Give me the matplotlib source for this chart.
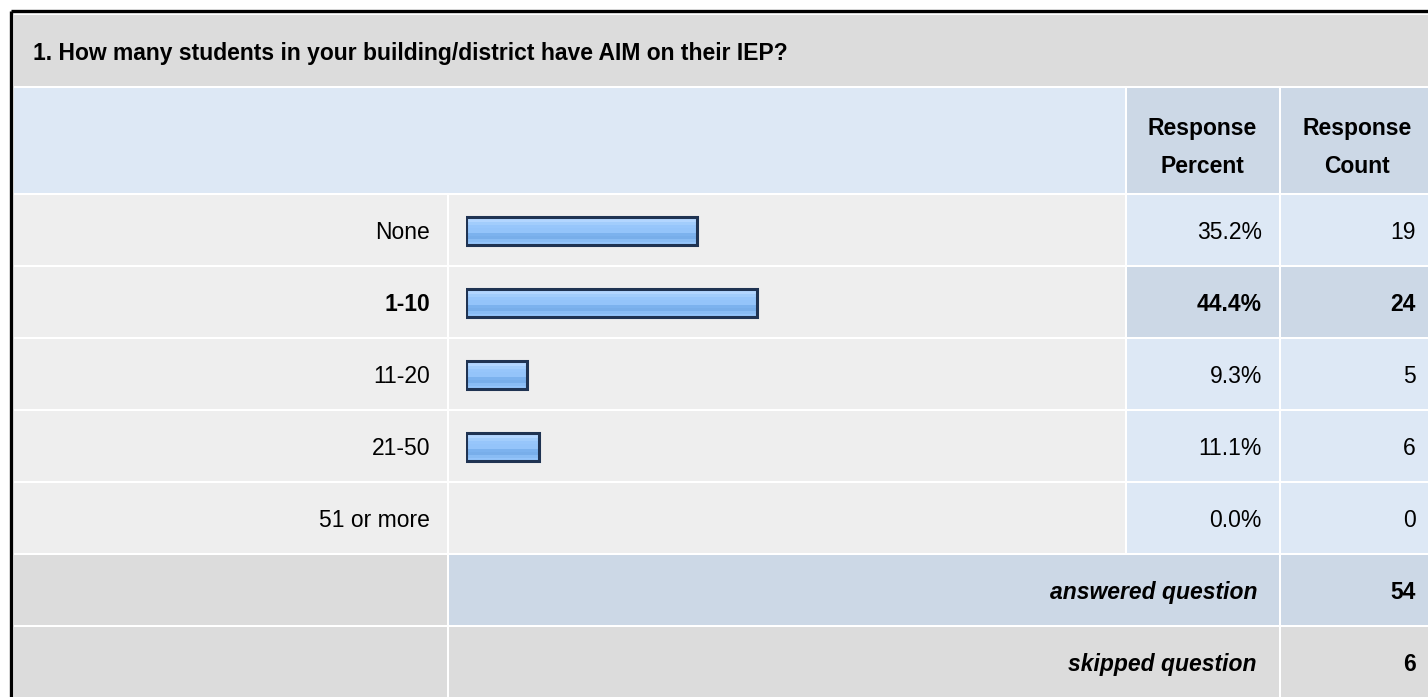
import matplotlib
matplotlib.use("Agg")
import matplotlib.pyplot as plt
from matplotlib.patches import Rectangle
import numpy as np

question = "1. How many students in your building/district have AIM on their IEP?"
choices = ["None", "1-10", "11-20", "21-50", "51 or more"]
percents = [35.2, 44.4, 9.3, 11.1, 0.0]
counts = [19, 24, 5, 6, 0]
answered = 54
skipped = 6

W, H = 1428, 697
GRAY = "#dcdcdc"
ROWBG = "#eeeeee"
LBLUE = "#dde8f5"
BLUE = "#ccd8e6"
NAVY = "#1f3352"
FONT = "Liberation Sans"
FS = 16.5
DY = 2.5  # nudge text down so the glyphs sit centred like the reference

fig = plt.figure(figsize=(W / 100, H / 100), dpi=100)
fig.patch.set_facecolor("white")
ax = fig.add_axes([0, 0, 1, 1])
ax.set_xlim(0, W)
ax.set_ylim(H, 0)
ax.axis("off")

# column / row edges in pixels
x0, x1, x2, x3, x4 = 14, 449, 1127, 1281, W + 5
row_top = 195
row_h = 72
best = int(np.argmax(percents))


def cell(xa, xb, ya, yb, color):
    ax.add_patch(Rectangle((xa, ya), xb - xa - 2, yb - ya - 2, facecolor=color,
                           edgecolor="none"))


def txt(x, y, s, ha="left", bold=False, italic=False):
    ax.text(x, y + DY, s, ha=ha, va="center", fontsize=FS, family=FONT,
            fontweight="bold" if bold else "normal",
            fontstyle="italic" if italic else "normal", color="black")


# outer border (top + left)
ax.plot([11, W], [11, 11], color="black", lw=2.4, solid_capstyle="butt")
ax.plot([11, 11], [11, H], color="black", lw=2.4, solid_capstyle="butt")

# title row
cell(x0, x4, 15, 88, GRAY)
txt(33, 51, question, bold=True)

# header row
cell(x0, x2, 88, row_top, LBLUE)
cell(x2, x3, 88, row_top, BLUE)
cell(x3, x4, 88, row_top, BLUE)
txt(1202, 126, "Response", ha="center", bold=True)
txt(1202, 164, "Percent", ha="center", bold=True)
txt(1357, 126, "Response", ha="center", bold=True)
txt(1357, 164, "Count", ha="center", bold=True)

# data rows
for i, (c, p, n) in enumerate(zip(choices, percents, counts)):
    ya = row_top + i * row_h
    yb = ya + row_h
    yc = ya + row_h / 2 - 1
    bold = i == best
    cell(x0, x1, ya, yb, ROWBG)
    cell(x1, x2, ya, yb, ROWBG)
    cell(x2, x3, ya, yb, BLUE if bold else LBLUE)
    cell(x3, x4, ya, yb, BLUE if bold else LBLUE)
    txt(430, yc, c, ha="right", bold=bold)
    txt(1262, yc, f"{p:.1f}%", ha="right", bold=bold)
    txt(1416, yc, str(n), ha="right", bold=bold)

# summary rows
ya = row_top + len(choices) * row_h
cell(x0, x1, ya, ya + row_h, GRAY)
cell(x1, x3, ya, ya + row_h, BLUE)
cell(x3, x4, ya, ya + row_h, BLUE)
txt(1257, ya + row_h / 2 - 1, "answered question", ha="right", bold=True, italic=True)
txt(1416, ya + row_h / 2 - 1, str(answered), ha="right", bold=True)
ya += row_h
cell(x0, x1, ya, H + 5, GRAY)
cell(x1, x3, ya, H + 5, GRAY)
cell(x3, x4, ya, H + 5, GRAY)
txt(1257, ya + row_h / 2 - 1, "skipped question", ha="right", bold=True, italic=True)
txt(1416, ya + row_h / 2 - 1, str(skipped), ha="right", bold=True)

# bar axes: 0..100 % over the bar column, one row per choice
bx0, bx1 = 466, 466 + 656
by0, by1 = row_top, row_top + len(choices) * row_h
bax = fig.add_axes([bx0 / W, 1 - by1 / H, (bx1 - bx0) / W, (by1 - by0) / H])
bax.axis("off")
bax.patch.set_alpha(0)

grad = np.array(["#c4e0ff", "#b3d6ff", "#a2cdfc", "#97c6fb", "#94c4fa", "#94c4fa",
                 "#7cb2ee", "#78aeea", "#89bcf4", "#94c4fa"])
rgb = np.array([matplotlib.colors.to_rgb(g) for g in grad])[:, None, :]
bh = 0.39
ypos = np.arange(len(choices))
for y, p in zip(ypos, percents):
    if p <= 0:
        continue
    bax.imshow(rgb, extent=(0, p, y + bh / 2, y - bh / 2), aspect="auto",
               interpolation="nearest", zorder=1)
bars = bax.barh(ypos, percents, height=bh, left=0, color="none",
                edgecolor=NAVY, linewidth=2.2, zorder=2)
for b, p in zip(bars, percents):
    if p <= 0:
        b.set_visible(False)
bax.set_xlim(0, 100)
bax.set_ylim(len(choices) - 0.5, -0.5)

fig.savefig("out.png", dpi=100, facecolor="white")
